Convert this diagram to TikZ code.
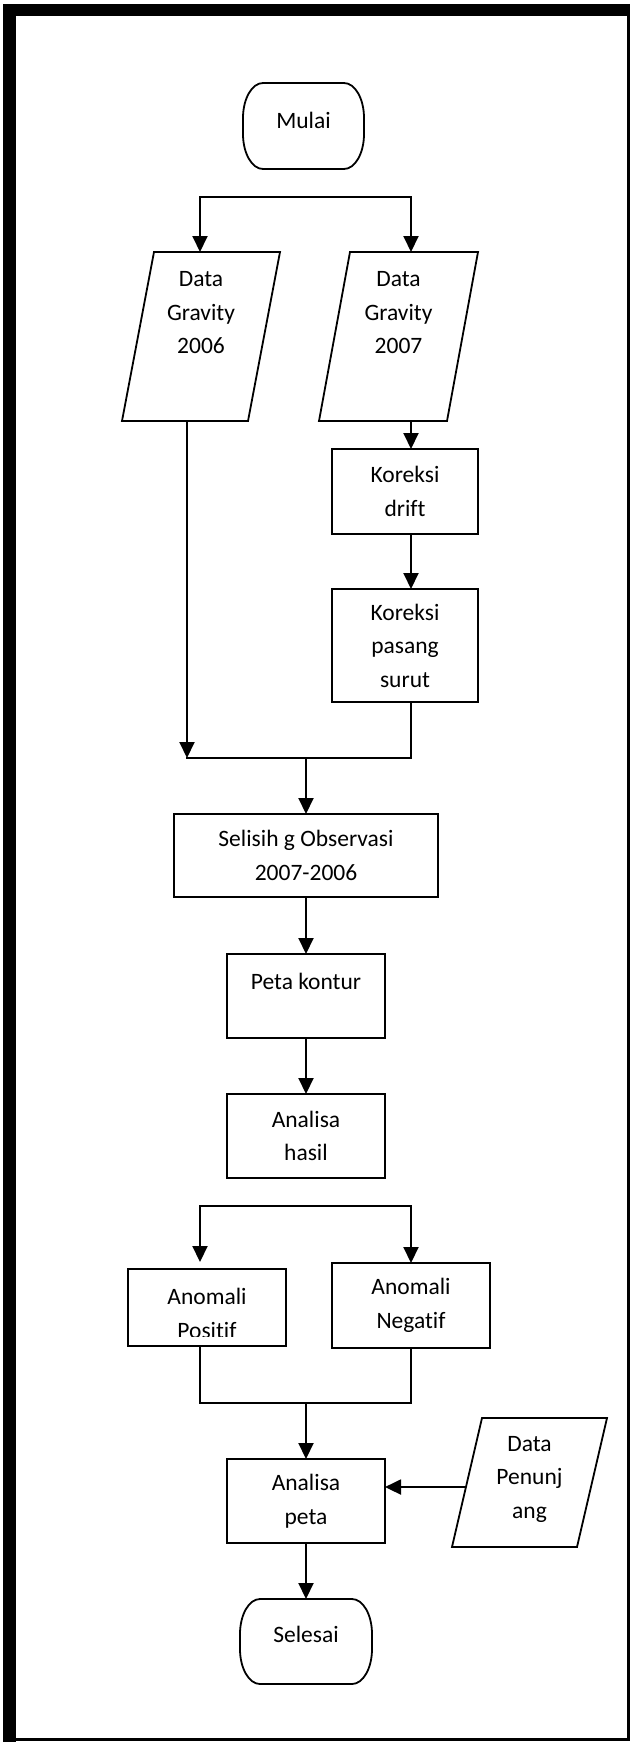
\documentclass[tikz,border=0pt]{standalone}
\usepackage{fontspec}
\setmainfont[Ligatures={NoCommon}]{Carlito}
\usetikzlibrary{arrows.meta,calc}
\newcommand\termdraw[1]{%
 \draw[shapeline] ([xshift=20pt]#1.north west) -- ([xshift=-20pt]#1.north east)
  arc[start angle=90,end angle=0,x radius=20pt,y radius=35pt]
  -- ([yshift=35pt]#1.south east)
  arc[start angle=0,end angle=-90,x radius=20pt,y radius=35pt]
  -- ([xshift=20pt]#1.south west)
  arc[start angle=-90,end angle=-180,x radius=20pt,y radius=35pt]
  -- ([yshift=-35pt]#1.north west)
  arc[start angle=180,end angle=90,x radius=20pt,y radius=35pt] -- cycle;}
\newcommand\paradraw[2]{%
 \draw[shapeline] ([xshift=#2]#1.north west) -- (#1.north east) -- ([xshift=-#2]#1.south east) -- (#1.south west) -- cycle;}
\begin{document}
\begin{tikzpicture}[x=1pt,y=1pt,
  font=\fontsize{23.5pt}{33.5pt}\selectfont,
  shapeline/.style={line width=1.8pt, line join=miter},
  base/.style={draw=none, rectangle, outer sep=0pt, inner sep=0pt},
  proc/.style={draw, rectangle, line width=1.8pt, outer sep=0pt, inner sep=2pt, align=center},
  txt/.style={align=center, inner sep=0pt},
  conn/.style={line width=2pt, line cap=rect},
  arr/.style={line width=2pt, -{Triangle[length=16pt,width=15pt]}}]
\useasboundingbox (0,0) rectangle (631,-1742);
% page frame
\fill[black] (3,-4) rectangle (16,-1742);
\fill[black] (3,-4) rectangle (628,-16);
\draw[line width=2.6pt] (628.7,-4) -- (628.7,-1740.6);
\draw[line width=2.2pt] (16,-1739.5) -- (629.8,-1739.5);
% nodes
\node[base, minimum width=121pt, minimum height=86pt] (mulai) at (303.5,-126) {};
\termdraw{mulai}
\node[txt] (mulaiT) at ([yshift=6pt]mulai.center) {Mulai};

\node[base, minimum width=158pt, minimum height=169pt] (g6) at (201,-336.5) {};
\paradraw{g6}{32pt}
\node[txt] (g6T) at ([yshift=23.5pt]g6.center) {Data\\Gravity\\2006};

\node[base, minimum width=159pt, minimum height=169pt] (g7) at (398.5,-336.5) {};
\paradraw{g7}{31pt}
\node[txt] (g7T) at ([yshift=23.5pt]g7.center) {Data\\Gravity\\2007};

\node[proc, minimum width=146pt, minimum height=85pt] (kd) at (405,-491.5) {Koreksi\\drift};
\node[proc, minimum width=146pt, minimum height=113pt] (kps) at (405,-645.5) {Koreksi\\pasang\\surut};
\node[proc, minimum width=264pt, minimum height=83pt] (sel) at (306,-855.5) {Selisih g Observasi\\2007-2006};
\node[proc, minimum width=158pt, minimum height=84pt] (peta) at (306,-996) {};
\node[txt] (petaT) at ([yshift=15pt]peta.center) {Peta kontur};
\node[proc, minimum width=158pt, minimum height=84pt] (hasil) at (306,-1136) {Analisa\\hasil};

\node[proc, minimum width=158pt, minimum height=77pt] (pos) at (207,-1307.5) {};
\begin{scope}
\clip (128,-1269) rectangle (286,-1336);
\node[txt] (posT) at (207,-1313.5) {Anomali\\Positif};
\end{scope}
\node[proc, minimum width=158pt, minimum height=85pt] (neg) at (411,-1305.5) {Anomali\\Negatif};

\node[proc, minimum width=158pt, minimum height=84pt] (ap) at (306,-1501) {Analisa\\peta};

\node[base, minimum width=155pt, minimum height=129pt] (dp) at (529.5,-1482.5) {};
\paradraw{dp}{30pt}
\node[txt] (dpT) at ([yshift=3.5pt]dp.center) {Data\\Penunj\\ang};

\node[base, minimum width=132pt, minimum height=85pt] (sls) at (306,-1641.5) {};
\termdraw{sls}
\node[txt] (slsT) at ([yshift=7.5pt]sls.center) {Selesai};

% connectors
\coordinate (f1L) at (200,-197);
\coordinate (f1R) at (411,-197);
\draw[conn] (f1L) -- (f1R);
\draw[arr] (f1L) -- (f1L |- g6.north);
\draw[arr] (f1R) -- (f1R |- g7.north);

\draw[arr] (g7.south -| f1R) -- (kd.north -| f1R);
\draw[arr] (kd.south -| f1R) -- (kps.north -| f1R);

\coordinate (j1L) at (187,-758);
\coordinate (j1R) at (411,-758);
\draw[arr] (g6.south -| j1L) -- (j1L);
\draw[conn] (kps.south -| j1R) -- (j1R) -- (j1L);
\draw[arr] (j1L -| sel.north) -- (sel.north);

\draw[arr] (sel.south) -- (peta.north);
\draw[arr] (peta.south) -- (hasil.north);

\coordinate (f2L) at (200,-1206);
\coordinate (f2R) at (411,-1206);
\coordinate (posIn) at (200,-1262);
\draw[conn] (f2L) -- (f2R);
\draw[arr] (f2L) -- (posIn);
\draw[arr] (f2R) -- (neg.north -| f2R);

\coordinate (j2L) at (200,-1403);
\coordinate (j2R) at (411,-1403);
\draw[conn] (pos.south -| j2L) -- (j2L) -- (j2R) -- (neg.south -| j2R);
\draw[arr] (j2L -| ap.north) -- (ap.north);

\coordinate (dpL) at ($([xshift=30pt]dp.north west)!0.535!(dp.south west)$);
\draw[arr] (dpL) -- (dpL -| ap.east);
\draw[arr] (ap.south) -- (sls.north);
\end{tikzpicture}
\end{document}
